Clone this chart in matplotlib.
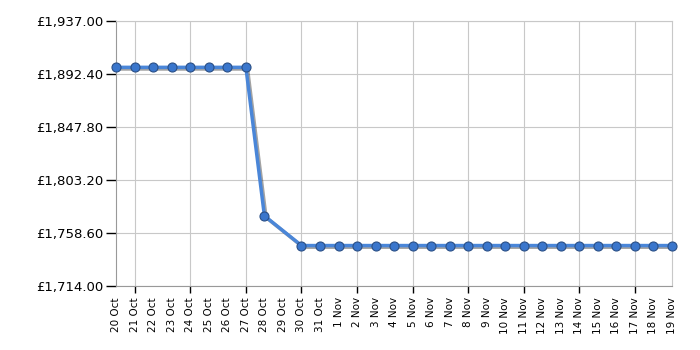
import numpy as np
import matplotlib
matplotlib.use('Agg')
import matplotlib.pyplot as plt
import matplotlib.patheffects as pe
from matplotlib.ticker import FuncFormatter

# Price history data (29 Oct has no reading)
dates = ['20 Oct', '21 Oct', '22 Oct', '23 Oct', '24 Oct', '25 Oct', '26 Oct',
         '27 Oct', '28 Oct', '29 Oct', '30 Oct', '31 Oct', '1 Nov', '2 Nov',
         '3 Nov', '4 Nov', '5 Nov', '6 Nov', '7 Nov', '8 Nov', '9 Nov',
         '10 Nov', '11 Nov', '12 Nov', '13 Nov', '14 Nov', '15 Nov', '16 Nov',
         '17 Nov', '18 Nov', '19 Nov']
prices = [1898.0, 1898.0, 1898.0, 1898.0, 1898.0, 1898.0, 1898.0, 1898.0,
          1773.0, None, 1748.0, 1748.0, 1748.0, 1748.0, 1748.0, 1748.0,
          1748.0, 1748.0, 1748.0, 1748.0, 1748.0, 1748.0, 1748.0, 1748.0,
          1748.0, 1748.0, 1748.0, 1748.0, 1748.0, 1748.0, 1748.0]
yticks = [1714.0, 1758.6, 1803.2, 1847.8, 1892.4, 1937.0]

xs = [i for i, p in enumerate(prices) if p is not None]
ys = [p for p in prices if p is not None]

fig = plt.figure(figsize=(7, 3.5), dpi=100)
ax = fig.add_axes([0.166, 0.183, 0.794, 0.757])

# soft drop shadow under the line, then the line with markers on top
ax.plot(xs, ys, color='#4a86d8', linewidth=2.5, zorder=3, clip_on=False,
        path_effects=[pe.SimpleLineShadow(offset=(1.2, -1.2), shadow_color='#333333', alpha=0.45),
                      pe.Normal()])
ax.plot(xs, ys, linestyle='none', marker='o', markersize=6.5,
        markerfacecolor='#3a76cc', markeredgecolor='#2a4f86', markeredgewidth=0.8,
        zorder=4, clip_on=False)

ax.set_xlim(0, len(dates) - 1)
ax.set_ylim(yticks[0], yticks[-1])
ax.set_yticks(yticks)
ax.yaxis.set_major_formatter(FuncFormatter(lambda v, pos: '£{:,.2f}'.format(v)))

major = list(range(1, len(dates), 3))
ax.xaxis.remove_overlapping_locs = False
ax.set_xticks(major)
ax.set_xticklabels([''] * len(major))
ax.set_xticks(range(len(dates)), minor=True)
ax.set_xticklabels(dates, minor=True, rotation=90, fontsize=7.5)
ax.tick_params(axis='x', which='minor', length=0, pad=8)
ax.tick_params(axis='x', which='major', length=5, width=1, color='black')
ax.tick_params(axis='y', length=7, width=1, color='black', labelsize=9.5, pad=2)

ax.grid(True, which='major', color='#c8c8c8', linewidth=0.8)
for s in ['top', 'right']:
    ax.spines[s].set_color('#c8c8c8')
for s in ['left', 'bottom']:
    ax.spines[s].set_color('#999999')
ax.set_axisbelow(True)

fig.savefig('out.png', dpi=100)
